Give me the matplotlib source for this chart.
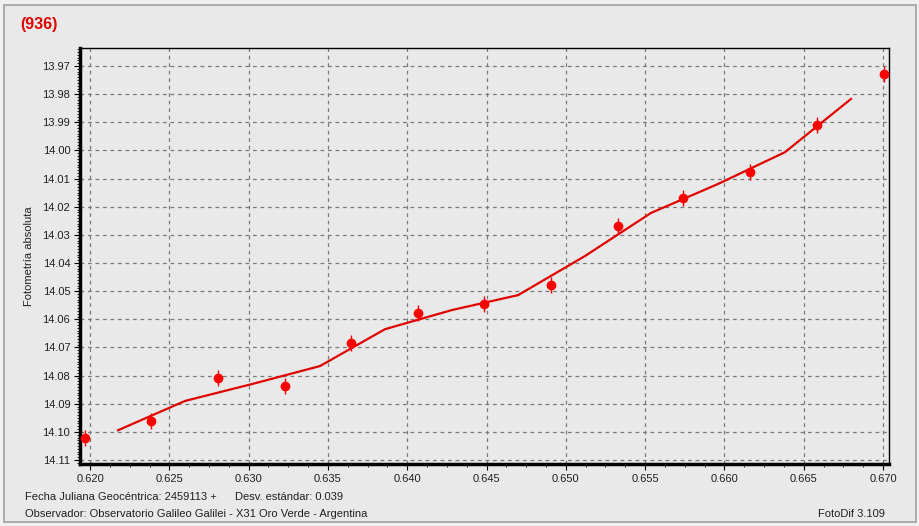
import numpy as np
import matplotlib.pyplot as plt
from matplotlib.ticker import MultipleLocator, FormatStrFormatter
from matplotlib.patches import Rectangle

# observed points
obs_x = [0.61968, 0.62385, 0.62807, 0.63230, 0.63646, 0.64068, 0.64484,
         0.64907, 0.65329, 0.65739, 0.66161, 0.66584, 0.67006]
obs_y = [14.1022, 14.0962, 14.0809, 14.0837, 14.0684, 14.0578, 14.0546,
         14.0478, 14.0269, 14.0169, 14.0077, 13.9910, 13.9728]
obs_err = [0.0028] * len(obs_x)

# smoothed fit
fit_x = [0.62177, 0.62599, 0.63021, 0.63450, 0.63860, 0.64282, 0.64699,
         0.65121, 0.65537, 0.65960, 0.66382, 0.66798]
fit_y = [14.0994, 14.0890, 14.0830, 14.0766, 14.0635, 14.0567, 14.0514,
         14.0375, 14.0222, 14.0119, 14.0006, 13.9817]

plt.rcParams['font.family'] = ['Liberation Sans', 'DejaVu Sans']
bg = '#e9e9e9'
fs = 8

fig = plt.figure(figsize=(9.19, 5.26), dpi=100)
fig.patch.set_facecolor('#f0f0f0')
fig.patches.append(Rectangle((4 / 919, 4 / 526), 912 / 919, 517 / 526,
                             transform=fig.transFigure, facecolor=bg,
                             edgecolor='#a0a0a0', lw=1.2, zorder=-1))

ax = fig.add_axes([0.0871, 0.1179, 0.8803, 0.7908])
ax.set_facecolor(bg)

ax.plot(fit_x, fit_y, '-', color='#e00000', lw=1.6, zorder=3)
ax.errorbar(obs_x, obs_y, yerr=obs_err, fmt='o', color='#ff0000', ms=6,
            elinewidth=1.0, capsize=0, zorder=4)

ax.set_xlim(0.61937, 0.67038)
ax.set_ylim(14.1114, 13.9636)

ax.xaxis.set_major_locator(MultipleLocator(0.005))
ax.xaxis.set_minor_locator(MultipleLocator(0.00125))
ax.yaxis.set_major_locator(MultipleLocator(0.01))
ax.yaxis.set_minor_locator(MultipleLocator(0.001))
ax.xaxis.set_major_formatter(FormatStrFormatter('%.3f'))
ax.yaxis.set_major_formatter(FormatStrFormatter('%.2f'))

ax.grid(True, which='major', color='#7a7a7a', ls=(0, (3, 3)), lw=0.9)
ax.tick_params(axis='both', which='major', labelsize=fs, length=4,
               width=0.8, direction='out', pad=3, labelcolor='#202020')
ax.tick_params(axis='both', which='minor', length=2, width=0.6,
               direction='out')

for side in ['left', 'bottom']:
    ax.spines[side].set_linewidth(2.5)
for side in ['top', 'right']:
    ax.spines[side].set_linewidth(1.0)

ax.set_ylabel('Fotometría absoluta', fontsize=fs, labelpad=6,
              color='#202020')

fig.text(20 / 919, 1 - 25 / 526, '(936)', color='#e00000', fontsize=11.5,
         fontweight='bold', va='center', ha='left')
fig.text(25 / 919, 1 - 497 / 526, 'Fecha Juliana Geocéntrica: 2459113 +',
         fontsize=fs, va='center', ha='left', color='#202020')
fig.text(235 / 919, 1 - 497 / 526, 'Desv. estándar: 0.039',
         fontsize=fs, va='center', ha='left', color='#202020')
fig.text(25 / 919, 1 - 514 / 526,
         'Observador: Observatorio Galileo Galilei - X31 Oro Verde - Argentina',
         fontsize=fs, va='center', ha='left', color='#202020')
fig.text(885 / 919, 1 - 514 / 526, 'FotoDif 3.109', fontsize=fs,
         va='center', ha='right', color='#202020')

fig.savefig('out.png', dpi=100, facecolor=fig.get_facecolor())
